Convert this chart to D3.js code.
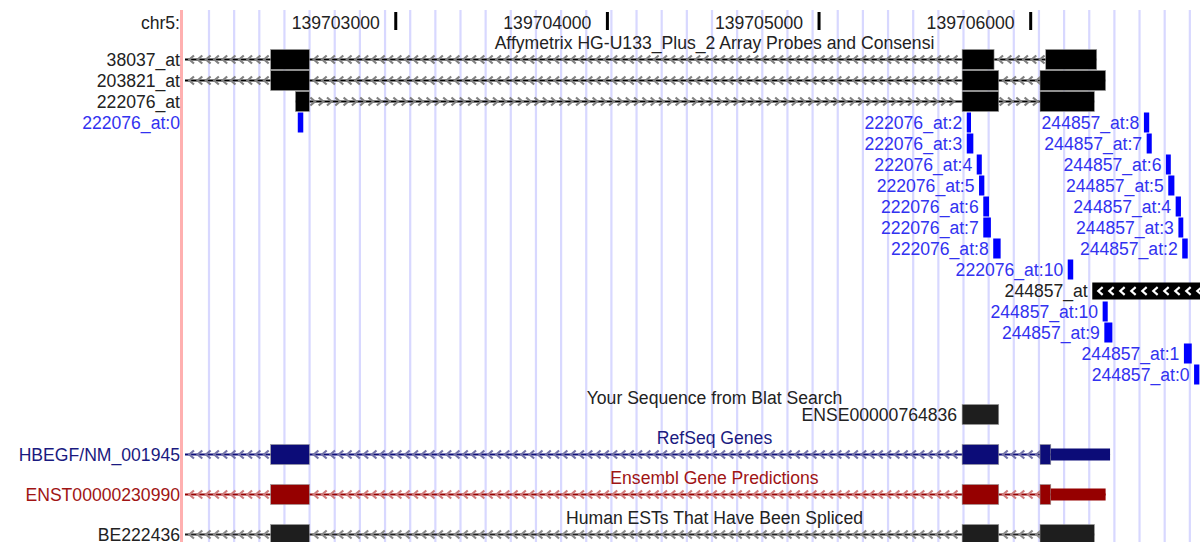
<!DOCTYPE html>
<html>
<head>
<meta charset="utf-8">
<script src="https://cdn.jsdelivr.net/npm/d3@7"></script>
<style>
  body { margin: 0; background: #fff; }
  text { font-family: "Liberation Sans", Arial, sans-serif; font-size: 17.6px; }
</style>
</head>
<body>
<div id="chart"></div>
<script>
const width = 1200;
const height = 542;

// view window
const chrom = "chr5:";
const viewStart = 139701990;
const viewEnd = 139706800;
const tickValues = [139703000, 139704000, 139705000, 139706000];

// Affymetrix consensus rows (full transcripts)
const affyNames = ["38037_at", "203821_at", "222076_at"];
const affyStrand = ["-", "-", "+"];
const affyTxStart = [139701000, 139701000, 139702526];
const affyExons = [
  [[139702409, 139702592], [139705676, 139705827], [139706071, 139706312]],
  [[139702409, 139702592], [139705676, 139705849], [139706044, 139706354]],
  [[139702526, 139702592], [139705676, 139705849], [139706044, 139706301]]
];

// individual probes
const probeNames = [
  "222076_at:0", "222076_at:2", "244857_at:8",
  "222076_at:3", "244857_at:7",
  "222076_at:4", "244857_at:6",
  "222076_at:5", "244857_at:5",
  "222076_at:6", "244857_at:4",
  "222076_at:7", "244857_at:3",
  "222076_at:8", "244857_at:2",
  "222076_at:10",
  "244857_at:10", "244857_at:9", "244857_at:1", "244857_at:0"
];
const probeStart = [
  139702537, 139705698, 139706535,
  139705698, 139706548,
  139705745, 139706639,
  139705756, 139706650,
  139705776, 139706685,
  139705776, 139706698,
  139705823, 139706716,
  139706175,
  139706340, 139706348, 139706724, 139706772
];
const probeEnd = [
  139702563, 139705718, 139706560,
  139705729, 139706572,
  139705769, 139706662,
  139705781, 139706679,
  139705803, 139706710,
  139705812, 139706721,
  139705858, 139706742,
  139706201,
  139706364, 139706386, 139706761, 139706797
];
const probeRow = [3, 3, 3, 4, 4, 5, 5, 6, 6, 7, 7, 8, 8, 9, 9, 10, 12, 13, 14, 15];

// the consensus block of 244857_at (row 11)
const blockName = "244857_at";
const blockStart = 139706291;
const blockEnd = 139707000;
const blockRow = 11;

// Blat hit
const blatName = "ENSE00000764836";
const blatStart = 139705676;
const blatEnd = 139705849;

// gene tracks
const geneTitles = ["RefSeq Genes", "Ensembl Gene Predictions", "Human ESTs That Have Been Spliced"];
const geneNames = ["HBEGF/NM_001945", "ENST00000230990", "BE222436"];
const geneColors = ["#0c0c78", "#960000", "#1e1e1e"];
const geneArrowColors = ["#7373a8", "#d07c7c", "#8a8a8a"];
const geneTitleColors = ["#1a1a80", "#a01414", "#222222"];
const geneThickEnd = [139706095, 139706095, 139707000];
const geneExons = [
  [[139702409, 139702592], [139705676, 139705849], [139706044, 139706375]],
  [[139702409, 139702592], [139705676, 139705849], [139706044, 139706354]],
  [[139702409, 139702592], [139705676, 139705849], [139706044, 139706301]]
];

const trackTitles = ["Affymetrix HG-U133_Plus_2 Array Probes and Consensi", "Your Sequence from Blat Search"];

const svg = d3.select("#chart")
  .append("svg")
  .attr("width", width)
  .attr("height", height);

const x = d3.scaleLinear().domain([viewStart, viewEnd]).range([182, 1200]);
const titleX = 714.5;
const labelRight = 180;

// layout
const titleH = 19, rowH = 21;
let cursor = 30;
function track(nRows) {
  const top = cursor;
  const t = { title: top + 18.5, row: i => top + titleH + rowH * i + 10.5 };
  cursor += titleH + rowH * nRows;
  return t;
}
const affyT = track(16);
const blatT = track(1);
const geneT = geneNames.map(() => track(1));

// guidelines
svg.append("g").selectAll("line")
  .data(d3.range(209, 1200, 25.15))
  .join("line")
  .attr("x1", d => d).attr("x2", d => d)
  .attr("y1", 10).attr("y2", height)
  .attr("stroke", "#d8d8ff")
  .attr("stroke-width", 2.2);

svg.append("line")
  .attr("x1", 181.5).attr("x2", 181.5)
  .attr("y1", 10).attr("y2", height)
  .attr("stroke", "#ffb0b0")
  .attr("stroke-width", 3);

// ruler
svg.append("text")
  .attr("x", labelRight).attr("y", 28.5)
  .attr("text-anchor", "end").attr("fill", "#222")
  .text(chrom);

const ruler = svg.append("g");
ruler.selectAll("rect")
  .data(tickValues)
  .join("rect")
  .attr("x", d => x(d) - 1.5).attr("y", 12)
  .attr("width", 3).attr("height", 18)
  .attr("fill", "#000");
ruler.selectAll("text")
  .data(tickValues)
  .join("text")
  .attr("x", d => x(d) - 16).attr("y", 28.5)
  .attr("text-anchor", "end").attr("fill", "#222")
  .text(d => d3.format("d")(d));

// clip the data area
svg.append("clipPath").attr("id", "data")
  .append("rect").attr("x", 185).attr("y", 0).attr("width", width - 185).attr("height", height);
const plot = svg.append("g").attr("clip-path", "url(#data)");

function title(t, text, color) {
  svg.append("text")
    .attr("x", titleX).attr("y", t)
    .attr("text-anchor", "middle").attr("fill", color)
    .text(text);
}

function chevrons(g, x0, x1, y, strand, color, step, size) {
  const dir = strand === "-" ? 1 : -1;
  g.selectAll(null)
    .data(d3.range(x0 + step * 0.6, x1 - 2, step))
    .join("path")
    .attr("d", cx => `M${cx + dir * size},${y - size} L${cx - dir * size * 0.15},${y} L${cx + dir * size},${y + size}`)
    .attr("fill", "none")
    .attr("stroke", color)
    .attr("stroke-width", 2.2);
}

// draws a transcript: intron line with arrows, then exon boxes
function transcript(y, txStart, exons, strand, color, arrowColor, thickEnd) {
  const g = plot.append("g");
  const first = txStart < exons[0][0] ? txStart : exons[0][0];
  const last = exons[exons.length - 1][1];
  g.append("line")
    .attr("x1", Math.max(185, x(first))).attr("x2", x(last))
    .attr("y1", y).attr("y2", y)
    .attr("stroke", color).attr("stroke-width", 2);
  const gaps = [];
  if (first < exons[0][0]) gaps.push([first, exons[0][0]]);
  for (let i = 1; i < exons.length; i++) gaps.push([exons[i - 1][1], exons[i][0]]);
  gaps.forEach(([a, b]) => chevrons(g, Math.max(185, x(a)), x(b), y, strand, arrowColor, 8.3, 4));
  exons.forEach(([a, b]) => {
    const te = Math.min(b, thickEnd);
    if (te > a) {
      g.append("rect")
        .attr("x", x(a)).attr("y", y - 10)
        .attr("width", x(te) - x(a)).attr("height", 20)
        .attr("fill", color).attr("stroke", "#999").attr("stroke-width", 0.6);
    }
    if (b > te) {
      g.append("rect")
        .attr("x", x(Math.max(a, te))).attr("y", y - 6)
        .attr("width", x(b) - x(Math.max(a, te))).attr("height", 12)
        .attr("fill", color);
    }
  });
}

function label(xr, y, text, color) {
  svg.append("text")
    .attr("x", xr).attr("y", y + 6.5)
    .attr("text-anchor", "end").attr("fill", color)
    .text(text);
}

// Affymetrix track
title(affyT.title, trackTitles[0], "#222");
affyNames.forEach((n, i) => {
  const y = affyT.row(i);
  transcript(y, affyTxStart[i], affyExons[i], affyStrand[i], "#000", "#808080", Infinity);
  label(labelRight, y, n, "#222");
});

probeNames.forEach((n, i) => {
  const y = affyT.row(probeRow[i]);
  plot.append("rect")
    .attr("x", x(probeStart[i])).attr("y", y - 10)
    .attr("width", x(probeEnd[i]) - x(probeStart[i])).attr("height", 20)
    .attr("fill", "#0000ff");
  const inGutter = x(probeStart[i]) < 320;
  label(inGutter ? labelRight : x(probeStart[i]) - 4.5, y, n, "#3232f0");
});

{
  const y = affyT.row(blockRow);
  const g = plot.append("g");
  g.append("rect")
    .attr("x", x(blockStart)).attr("y", y - 8)
    .attr("width", x(blockEnd) - x(blockStart)).attr("height", 17)
    .attr("fill", "#000");
  chevrons(g, x(blockStart), width, y + 0.5, "-", "#fff", 11, 3.8);
  label(x(blockStart) - 4.5, y, blockName, "#222");
}

// Blat track
title(blatT.title, trackTitles[1], "#222");
{
  const y = blatT.row(0);
  plot.append("rect")
    .attr("x", x(blatStart)).attr("y", y - 10)
    .attr("width", x(blatEnd) - x(blatStart)).attr("height", 20)
    .attr("fill", "#1e1e1e").attr("stroke", "#999").attr("stroke-width", 0.6);
  label(x(blatStart) - 5, y, blatName, "#222");
}

// gene tracks
geneNames.forEach((n, i) => {
  const t = geneT[i];
  title(t.title, geneTitles[i], geneTitleColors[i]);
  const y = t.row(0);
  transcript(y, viewStart - 1000, geneExons[i], "-", geneColors[i], geneArrowColors[i], geneThickEnd[i]);
  label(labelRight, y, n, geneTitleColors[i]);
});
</script>
</body>
</html>
